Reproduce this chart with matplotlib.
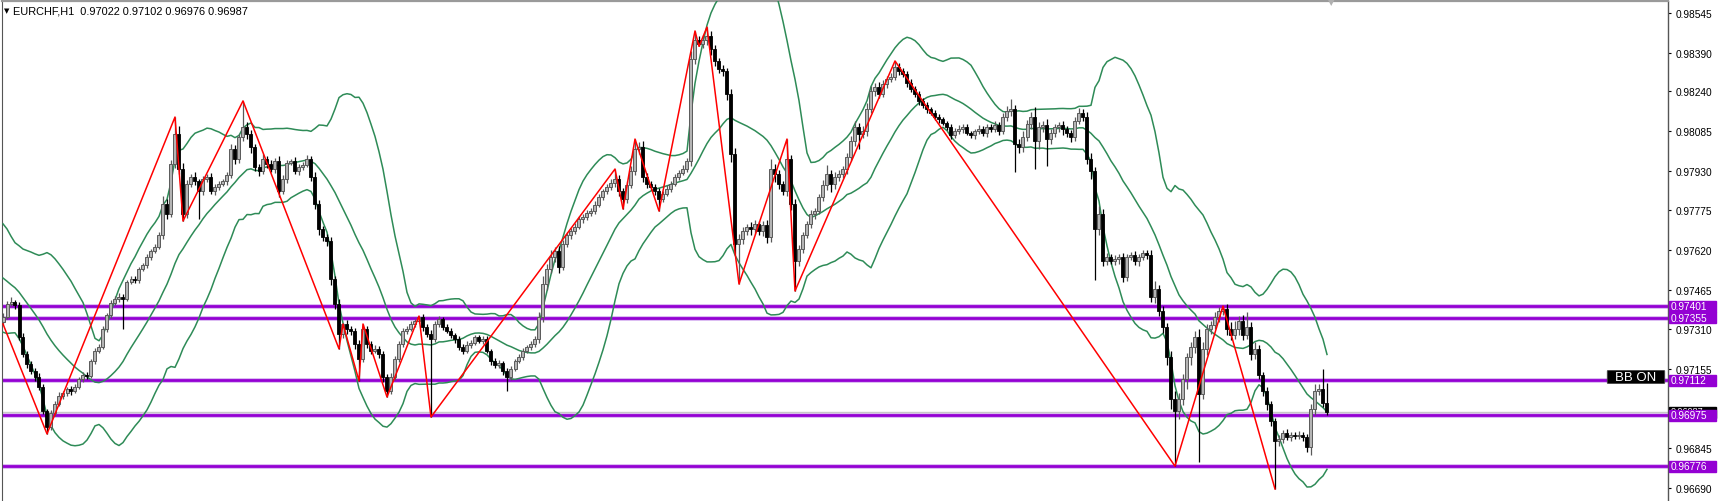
import numpy as np
import pandas as pd
import matplotlib
matplotlib.use("Agg")
import matplotlib.pyplot as plt
import matplotlib.transforms as mtransforms
from matplotlib.patches import Rectangle, FancyBboxPatch

plt.rcParams['font.family'] = ['Liberation Sans', 'DejaVu Sans']

# prices in points (1e-5), EURCHF H1
pre_close = [97660, 97680, 97650, 97620, 97640, 97600, 97580, 97560, 97540, 97520,
             97500, 97470, 97450, 97430, 97410, 97400, 97380, 97390, 97370]
first_open = 97340
closes = [
    97360, 97409, 97417, 97405, 97280, 97214, 97175, 97148, 97124, 97085,
    96992, 96929, 96984, 97019, 97050, 97062, 97077, 97070, 97085, 97116,
    97132, 97128, 97187, 97226, 97241, 97312, 97366, 97413, 97429, 97437,
    97429, 97495, 97507, 97503, 97546, 97561, 97593, 97616, 97632, 97679,
    97800, 97761, 97956, 98073, 97936, 97761, 97878, 97905, 97889, 97850,
    97897, 97905, 97850, 97866, 97878, 97889, 97913, 98014, 97975, 98061,
    98100, 98073, 98022, 97944, 97928, 97975, 97956, 97936, 97967, 97850,
    97897, 97960, 97967, 97928, 97944, 97952, 97975, 97905, 97800, 97702,
    97671, 97655, 97507, 97409, 97292, 97331, 97312, 97304, 97253, 97195,
    97312, 97253, 97226, 97234, 97214, 97124, 97070, 97124, 97195, 97253,
    97304, 97312, 97331, 97343, 97359, 97320, 97292, 97273, 97331, 97351,
    97320, 97304, 97288, 97273, 97241, 97226, 97249, 97257, 97280, 97265,
    97273, 97226, 97187, 97171, 97179, 97148, 97124, 97156, 97187, 97202,
    97226, 97241, 97253, 97273, 97359, 97487, 97546, 97593, 97616, 97554,
    97643, 97679, 97694, 97710, 97741, 97749, 97764, 97772, 97796, 97827,
    97850, 97866, 97881, 97897, 97850, 97819, 97874, 97928, 98014, 98022,
    97905, 97878, 97866, 97850, 97819, 97839, 97858, 97878, 97905, 97921,
    97936, 97967, 98365, 98440, 98425, 98440, 98455, 98405, 98358, 98326,
    98318, 98229, 97995, 97643, 97663, 97694, 97710, 97702, 97722, 97694,
    97718, 97671, 97936, 97917, 97878, 97850, 97975, 97800, 97577, 97624,
    97679, 97722, 97761, 97772, 97827, 97874, 97917, 97878, 97905, 97917,
    97936, 97983, 98045, 98100, 98073, 98084, 98170, 98241, 98256, 98229,
    98268, 98287, 98295, 98334, 98318, 98307, 98272, 98248, 98229, 98202,
    98186, 98170, 98155, 98139, 98131, 98116, 98100, 98069, 98084, 98092,
    98100, 98077, 98069, 98084, 98092, 98077, 98100, 98092, 98108, 98084,
    98139, 98162, 98170, 98034, 98022, 98061, 98112, 98139, 98045, 98100,
    98108, 98053, 98077, 98100, 98108, 98092, 98077, 98061, 98123, 98155,
    98139, 97975, 97928, 97702, 97761, 97577, 97593, 97577, 97585, 97593,
    97515, 97593, 97601, 97577, 97593, 97608, 97601, 97437, 97468, 97382,
    97320, 97202, 97038, 96992, 97038, 97116, 97202, 97241, 97280, 97058,
    97234, 97312, 97327, 97359, 97382, 97390, 97312, 97288, 97312, 97343,
    97288, 97320, 97214, 97234, 97132, 97070, 97019, 96953, 96874, 96882,
    96905, 96890, 96898, 96894, 96898, 96890, 96851, 96999, 97070, 97077,
    97022, 96987]
wick_up = [
    15, 10, 20, 8, 12, 15, 10, 12, 10, 14,
    10, 8, 12, 10, 15, 8, 10, 12, 10, 8,
    10, 12, 8, 10, 12, 10, 8, 12, 10, 15,
    10, 8, 12, 10, 8, 10, 12, 8, 10, 12,
    31, 20, 15, 66, 30, 25, 15, 12, 18, 10,
    12, 10, 15, 10, 12, 10, 12, 20, 15, 12,
    102, 20, 15, 12, 10, 20, 12, 15, 12, 20,
    15, 12, 10, 15, 12, 10, 15, 12, 20, 15,
    12, 10, 15, 12, 20, 5, 15, 12, 10, 15,
    19, 12, 10, 15, 12, 10, 12, 15, 10, 12,
    10, 12, 10, 8, 3, 10, 12, 15, 12, 10,
    8, 12, 10, 8, 12, 10, 15, 12, 10, 8,
    10, 12, 8, 10, 12, 8, 10, 12, 8, 10,
    12, 8, 10, 12, 20, 30, 20, 25, 15, 20,
    15, 12, 10, 15, 12, 10, 12, 10, 15, 12,
    10, 12, 15, 39, 15, 12, 15, 20, 39, 20,
    25, 15, 12, 10, 12, 10, 15, 12, 10, 12,
    15, 12, 30, 35, 15, 20, 35, 20, 15, 12,
    15, 12, 20, 25, 20, 15, 12, 20, 15, 12,
    15, 20, 40, 20, 15, 12, 78, 15, 20, 15,
    12, 10, 15, 12, 10, 20, 35, 15, 20, 15,
    12, 15, 20, 25, 15, 20, 25, 20, 15, 20,
    15, 12, 15, 24, 15, 12, 10, 15, 12, 10,
    12, 10, 8, 10, 12, 10, 8, 10, 12, 15,
    10, 12, 8, 10, 15, 12, 10, 12, 15, 10,
    15, 20, 40, 15, 20, 25, 15, 20, 40, 20,
    15, 25, 15, 12, 10, 15, 12, 10, 15, 20,
    15, 20, 25, 15, 30, 20, 15, 12, 15, 12,
    15, 12, 10, 15, 12, 10, 12, 20, 30, 15,
    20, 15, 25, 30, 25, 20, 15, 20, 25, 30,
    25, 20, 15, 20, 15, 11, 20, 25, 30, 20,
    25, 58, 20, 25, 15, 12, 15, 10, 12, 15,
    12, 15, 10, 12, 15, 10, 12, 20, 25, 20,
    79, 80]
wick_dn = [
    12, 10, 8, 15, 12, 10, 15, 12, 14, 10,
    12, 27, 10, 12, 8, 10, 12, 15, 10, 8,
    12, 10, 8, 12, 10, 8, 12, 10, 8, 12,
    117, 10, 8, 12, 10, 8, 10, 12, 8, 10,
    15, 20, 12, 15, 20, 28, 15, 12, 15, 109,
    15, 12, 10, 15, 12, 10, 15, 12, 20, 15,
    15, 20, 25, 15, 20, 12, 15, 12, 15, 25,
    12, 15, 10, 12, 15, 12, 10, 15, 20, 25,
    15, 20, 25, 20, 58, 15, 20, 15, 20, 86,
    12, 15, 12, 10, 15, 20, 24, 12, 10, 12,
    10, 12, 10, 12, 10, 15, 12, 305, 12, 10,
    12, 10, 12, 15, 10, 12, 10, 12, 8, 10,
    12, 10, 15, 10, 12, 15, 54, 12, 10, 8,
    10, 8, 12, 10, 15, 20, 25, 15, 20, 25,
    12, 10, 15, 12, 10, 15, 12, 10, 12, 10,
    12, 10, 12, 15, 20, 39, 15, 12, 15, 20,
    20, 15, 12, 15, 47, 12, 10, 12, 10, 12,
    10, 12, 20, 20, 10, 15, 20, 25, 20, 15,
    20, 25, 30, 40, 156, 20, 15, 25, 20, 15,
    20, 25, 20, 30, 20, 15, 20, 25, 117, 20,
    15, 12, 15, 20, 12, 15, 20, 30, 20, 15,
    15, 20, 15, 20, 60, 15, 20, 15, 20, 15,
    12, 15, 10, 12, 15, 12, 15, 10, 12, 15,
    12, 15, 10, 12, 15, 10, 12, 15, 10, 12,
    15, 10, 12, 15, 10, 12, 15, 10, 12, 15,
    12, 15, 20, 110, 25, 20, 15, 20, 110, 30,
    20, 105, 20, 15, 20, 25, 15, 20, 15, 12,
    15, 20, 30, 200, 25, 20, 15, 12, 15, 20,
    20, 15, 12, 15, 20, 12, 15, 20, 25, 20,
    25, 30, 40, 215, 30, 25, 40, 30, 25, 265,
    20, 25, 20, 15, 20, 15, 25, 20, 15, 25,
    20, 15, 25, 20, 15, 20, 25, 20, 187, 20,
    15, 12, 15, 12, 10, 15, 20, 30, 25, 15,
    15, 11]

# zigzag pivots (bar index, price)
zz_bar = [0, 11, 43, 45, 60, 84, 85, 89, 90, 96, 104, 107, 153, 155, 158, 164,
          173, 174, 176, 184, 196, 198, 223, 293, 305, 318]
zz_price = [97331, 96902, 98139, 97733, 98202, 97234, 97331, 97109, 97331, 97046,
            97362, 96968, 97936, 97780, 98053, 97772, 98475, 98415, 98490, 97487,
            98053, 97460, 98358, 96776, 97401, 96687]

levels = [0.97401, 0.97355, 0.97112, 0.96975, 0.96776]
bid = 0.96987
yticks = [0.98545, 0.98390, 0.98240, 0.98085, 0.97930, 0.97775, 0.97620,
          0.97465, 0.97310, 0.97155, 0.96845, 0.96690]

c = np.array(closes) / 1e5
o = np.array([first_open] + closes[:-1]) / 1e5
hi = np.maximum(o, c) + np.array(wick_up) / 1e5
lo = np.minimum(o, c) - np.array(wick_dn) / 1e5
idx = np.arange(len(c))

# Bollinger bands 20, 2
full = pd.Series(pre_close + closes) / 1e5
mid = full.rolling(20).mean().values[len(pre_close):]
sd = full.rolling(20).std(ddof=0).values[len(pre_close):]
upper = mid + 2 * sd
lower = mid - 2 * sd

W, H = 1718, 502
fig = plt.figure(figsize=(W / 100, H / 100), dpi=100)
ax = fig.add_axes([2 / W, 0, 1666 / W, 500 / H])
ax.set_xlim(-0.25, 416.25)
ax.set_ylim(0.96640, 0.98592)

# levels
for lv in levels:
    ax.axhline(lv, color='#dcbdf2', lw=3.6, zorder=1)
    ax.axhline(lv, color='#9400D3', lw=2.0, zorder=2)
ax.axhline(bid, color='#c8c8c8', lw=1.0, zorder=1)

# bands
green = '#2E8B57'
ax.plot(idx, upper, color=green, lw=1.1, zorder=3)
ax.plot(idx, mid, color=green, lw=1.1, zorder=3)
ax.plot(idx, lower, color=green, lw=1.1, zorder=3)

# candles
bull = c >= o
ax.vlines(idx[bull], lo[bull], hi[bull], color='#5a5a5a', lw=0.9, zorder=4)
ax.vlines(idx[~bull], lo[~bull], hi[~bull], color='black', lw=0.9, zorder=4)
ax.bar(idx[bull], (c - o)[bull], bottom=o[bull], width=0.75, color='#b4b4b4',
       edgecolor='#5a5a5a', linewidth=0.7, zorder=5)
ax.bar(idx[~bull], (o - c)[~bull], bottom=c[~bull], width=0.75, color='black',
       edgecolor='black', linewidth=0.6, zorder=5)

# zigzag
ax.plot(zz_bar, np.array(zz_price) / 1e5, color='red', lw=1.1, zorder=6)

# axis styling
ax.set_xticks([])
ax.yaxis.tick_right()
ax.set_yticks(yticks)
ax.set_yticklabels(['%.5f' % v for v in yticks])
ax.tick_params(axis='y', length=2.5, width=0.8, pad=3, labelsize=7.3,
               colors='black')
ax.spines['bottom'].set_visible(False)
ax.spines['top'].set_color('#9a9a9a')
ax.spines['top'].set_linewidth(1.6)
ax.spines['left'].set_color('#555555')
ax.spines['right'].set_color('#555555')
ax.spines['right'].set_linewidth(1.0)

# price labels on the axis
trans = mtransforms.blended_transform_factory(ax.transAxes, ax.transData)
x0 = (1669 - 2) / 1666
bw = (1716 - 1669) / 1666
hh = 5.5 * 3.903e-5
ax.add_patch(Rectangle((x0, bid - hh), bw, 2 * hh, transform=trans,
                       color='black', clip_on=False, zorder=10))
bid_txt = ax.text(x0 + 2 / 1666, bid + 0.00006, '%.5f' % bid, transform=trans,
                  color='white', fontsize=6.5, va='center', ha='left',
                  clip_on=False, zorder=11)
for lv in levels:
    ax.add_patch(Rectangle((x0, lv - hh), bw, 2 * hh, transform=trans,
                           color='#9400D3', clip_on=False, zorder=12))
    ax.text(x0 + 2 / 1666, lv, '%.5f' % lv, transform=trans, color='white',
            fontsize=7.3, va='center', ha='left', clip_on=False, zorder=13)

# BB ON label
fig.patches.append(FancyBboxPatch((1609 / W, (H - 384) / H), 54 / W, 12 / H,
                                  boxstyle='round,pad=0.001', transform=fig.transFigure,
                                  facecolor='black', edgecolor='#444444', lw=0.6,
                                  zorder=20))
fig.text(1636 / W, (H - 378) / H, 'BB ON', color='white', fontsize=9.5,
         ha='center', va='center', zorder=21)

# chart shift marker
fig.text(1331 / W, (H - 3) / H, '\u25bc', color='#b0b0b0', fontsize=6,
         family='DejaVu Sans', ha='center', va='center')

# header
fig.text(4 / W, (H - 11) / H, '\u25bc', fontsize=5, family='DejaVu Sans',
         va='center', ha='left')
fig.text(13 / W, (H - 11) / H, 'EURCHF,H1  0.97022 0.97102 0.96976 0.96987',
         fontsize=7.9, va='center', ha='left')

fig.savefig('out.png', dpi=100, facecolor='white')
